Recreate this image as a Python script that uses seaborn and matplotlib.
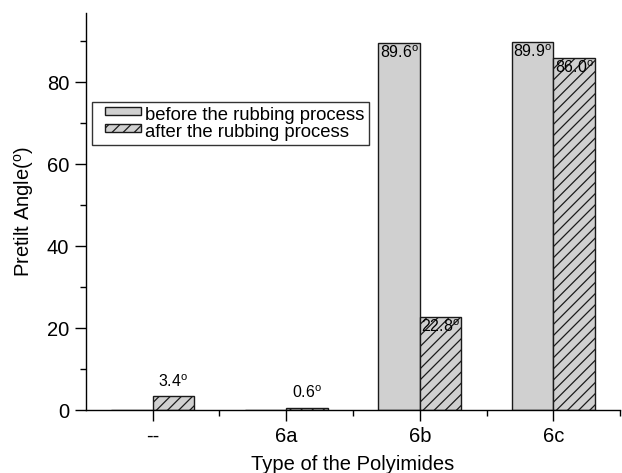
import pandas as pd
import matplotlib
matplotlib.use('Agg')
import matplotlib.pyplot as plt
from matplotlib.patches import Patch
from matplotlib.legend_handler import HandlerPatch
from matplotlib.ticker import MultipleLocator, FixedLocator
import seaborn as sns

# data
types = ['--', '6a', '6b', '6c']
before = [0.0, 0.0, 89.6, 89.9]
after = [3.4, 0.6, 22.8, 86.0]
stages = ['before the rubbing process', 'after the rubbing process']

df = pd.DataFrame({
    'type': types * 2,
    'angle': before + after,
    'stage': [stages[0]] * 4 + [stages[1]] * 4,
})

sns.set_style('ticks')
plt.rcParams['font.family'] = ['Liberation Sans', 'DejaVu Sans']
plt.rcParams['mathtext.fontset'] = 'custom'
plt.rcParams['mathtext.rm'] = 'Liberation Sans'
plt.rcParams['mathtext.it'] = 'Liberation Sans'
plt.rcParams['hatch.linewidth'] = 0.9
plt.rcParams['text.color'] = 'black'
plt.rcParams['axes.labelcolor'] = 'black'
plt.rcParams['xtick.color'] = 'black'
plt.rcParams['ytick.color'] = 'black'

fig = plt.figure(figsize=(6.22, 4.73), dpi=100)
ax = fig.add_axes([0.138, 0.133, 0.859, 0.84])

gray = '#d0d0d0'
edge = '#1a1a1a'
sns.barplot(data=df, x='type', y='angle', hue='stage', palette=[gray, gray],
            width=0.62, edgecolor=edge, linewidth=1.0, ax=ax,
            legend=False, saturation=1)

for bar in ax.containers[1]:
    bar.set_hatch('///')

# value labels
for i, v in enumerate(before):
    if v > 0:
        b = ax.containers[0][i]
        ax.text(b.get_x() + b.get_width() / 2, v - 0.4, f'{v:.1f}$^\\mathrm{{o}}$',
                ha='center', va='top', fontsize=11.5)
for i, v in enumerate(after):
    b = ax.containers[1][i]
    if v > 10:
        ax.text(b.get_x() + b.get_width() / 2, v - 0.4, f'{v:.1f}$^\\mathrm{{o}}$',
                ha='center', va='top', fontsize=11.5)
    else:
        ax.text(b.get_x() + b.get_width() / 2, v + 1.5, f'{v:.1f}$^\\mathrm{{o}}$',
                ha='center', va='bottom', fontsize=11.5)

ax.set_xlim(-0.5, 3.5)
ax.set_ylim(0, 97)
ax.yaxis.set_major_locator(MultipleLocator(20))
ax.yaxis.set_minor_locator(MultipleLocator(10))
ax.xaxis.set_minor_locator(FixedLocator([0.5, 1.5, 2.5, 3.5]))
ax.tick_params(which='major', length=8, width=1, labelsize=14.5, pad=4)
ax.tick_params(which='minor', length=4, width=1)
for s in ['left', 'bottom']:
    ax.spines[s].set_color('black')
    ax.spines[s].set_linewidth(1)
sns.despine(ax=ax)

ax.set_xlabel('Type of the Polyimides', fontsize=14.5, labelpad=7)
ax.set_ylabel('Pretilt Angle($^\\mathrm{o}$)', fontsize=14.5, labelpad=8)

handles = [Patch(facecolor=gray, edgecolor=edge, linewidth=1.0),
           Patch(facecolor=gray, edgecolor=edge, linewidth=1.0, hatch='///')]
leg = ax.legend(handles, stages, loc='upper left', bbox_to_anchor=(0.011, 0.775),
                fontsize=13.3, frameon=True, fancybox=False, handlelength=2.4,
                handleheight=0.7, handletextpad=0.25, labelspacing=0.0,
                borderpad=0.25, borderaxespad=0,
                handler_map={Patch: HandlerPatch(xpad=0.45, ypad=0.25)})
leg.get_frame().set_edgecolor('black')
leg.get_frame().set_linewidth(1)

fig.savefig('out.png', dpi=100)
